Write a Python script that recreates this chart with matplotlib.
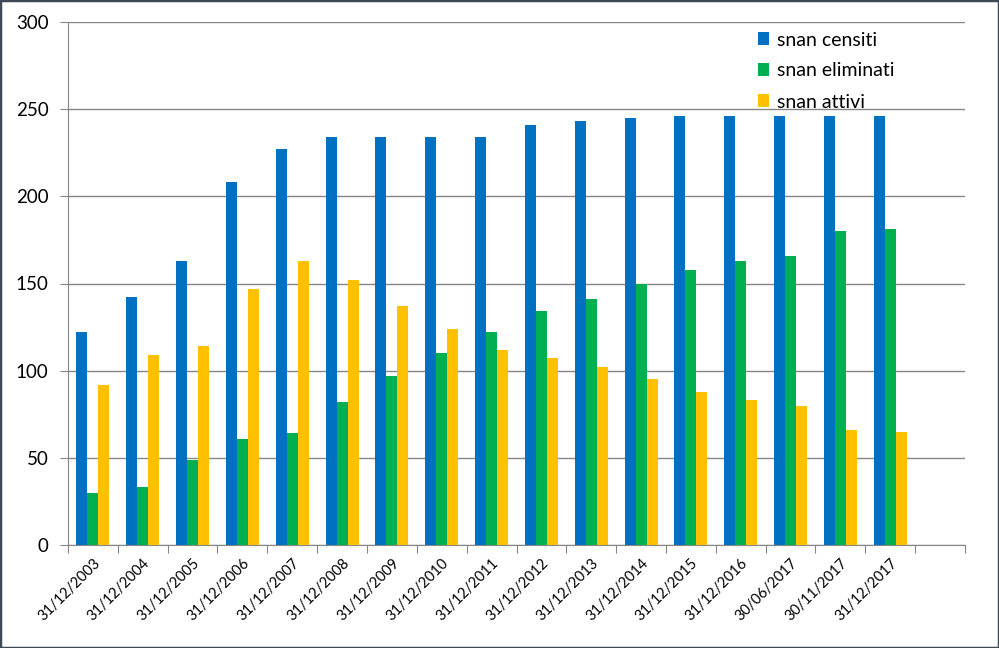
import numpy as np
import matplotlib.pyplot as plt
from matplotlib.patches import Rectangle

plt.rcParams['font.family'] = ['Lato', 'DejaVu Sans']

#====================== DATA ============================================

date = ["31/12/2003", "31/12/2004", "31/12/2005", "31/12/2006", "31/12/2007",
        "31/12/2008", "31/12/2009", "31/12/2010", "31/12/2011", "31/12/2012",
        "31/12/2013", "31/12/2014", "31/12/2015", "31/12/2016", "30/06/2017",
        "30/11/2017", "31/12/2017"]

censiti = [122, 142, 163, 208, 227, 234, 234, 234, 234, 241, 243, 245,
           246, 246, 246, 246, 246]
eliminati = [30, 33, 49, 61, 64, 82, 97, 110, 122, 134, 141, 150,
             158, 163, 166, 180, 181]
attivi = [92, 109, 114, 147, 163, 152, 137, 124, 112, 107, 102, 95,
          88, 83, 80, 66, 65]

#====================== PLOT ============================================

fig = plt.figure(figsize=(9.99, 6.48), dpi=100)
ax = fig.add_axes([68/999, 103/648, 897/999, 523/648])

x = np.arange(len(date))
w = 0.22
ax.bar(x - w, censiti, w, color='#0070C0', label='snan censiti', zorder=3)
ax.bar(x, eliminati, w, color='#00B050', label='snan eliminati', zorder=3)
ax.bar(x + w, attivi, w, color='#FFC000', label='snan attivi', zorder=3)

# one empty slot at the end, like the original
ax.set_xlim(-0.5, len(date) + 0.5)
ax.set_ylim(0, 300)
ax.set_yticks(np.arange(0, 301, 50))
ax.tick_params(axis='y', labelsize=13.5, length=6, color='#868686', pad=8)
ax.yaxis.grid(True, color='#868686', linewidth=1, zorder=0)

ax.set_xticks(np.arange(-0.5, len(date) + 1, 1))
ax.set_xticklabels([])
ax.set_xticks(x, minor=True)
ax.set_xticklabels(date, minor=True, rotation=45, ha='right',
                   rotation_mode='anchor', fontsize=10.5)
ax.tick_params(axis='x', which='major', length=6, color='#868686')
ax.tick_params(axis='x', which='minor', length=0, pad=8)

for s in ['top', 'right']:
    ax.spines[s].set_visible(False)
for s in ['left', 'bottom']:
    ax.spines[s].set_color('#868686')

ax.legend(loc='upper left', bbox_to_anchor=(740/999, 1 - 14/648),
          bbox_transform=fig.transFigure, frameon=False, fontsize=14,
          handlelength=0.6, handleheight=0.6, handletextpad=0.4,
          labelspacing=0.72)

fig.patches.append(Rectangle((0, 0), 1, 1, transform=fig.transFigure,
                             fill=False, edgecolor='#3f4a56', linewidth=2.5))

fig.savefig('out.png', dpi=100)
